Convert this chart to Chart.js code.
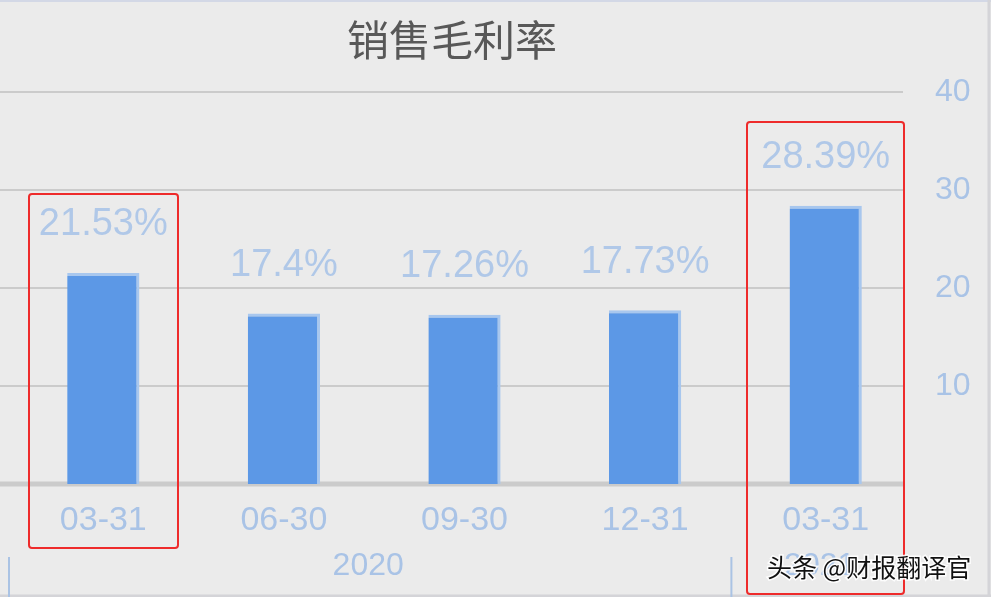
<!DOCTYPE html>
<html>
<head>
<meta charset="utf-8">
<script src="https://cdn.jsdelivr.net/npm/chart.js@4/dist/chart.umd.min.js"></script>
<style>
  html, body { margin: 0; padding: 0; background: #ebebeb; overflow: hidden; }
  canvas { display: block; }
</style>
</head>
<body>
<canvas id="chart" width="991" height="597"></canvas>
<script>
const title = '销售毛利率';
const categories = ['03-31', '06-30', '09-30', '12-31', '03-31'];
const years = ['2020', '2020', '2020', '2020', '2021'];
const margins = [21.53, 17.4, 17.26, 17.73, 28.39];
const yTicks = [0, 10, 20, 30, 40];
const watermark = '头条 @财报翻译官';

const labelBlue = '#a9c3e6';
const cjk = '"Noto Sans CJK SC", sans-serif';

// horizontal grid lines run a bit left of the plot and stop short of the axis
const gridPlugin = {
  id: 'grid',
  beforeDatasetsDraw(chart) {
    const { ctx } = chart;
    const y = chart.scales.y;
    ctx.save();
    yTicks.forEach(v => {
      const py = y.getPixelForValue(v);
      ctx.strokeStyle = '#cbcbcb';
      ctx.lineWidth = v === 0 ? 5 : 2;
      ctx.beginPath();
      ctx.moveTo(0, py);
      ctx.lineTo(903, py);
      ctx.stroke();
    });
    ctx.restore();
  }
};

const extrasPlugin = {
  id: 'extras',
  afterDraw(chart) {
    const { ctx, width, height } = chart;
    const x = chart.scales.x;
    const meta = chart.getDatasetMeta(0);
    ctx.save();

    // frame
    ctx.strokeStyle = '#d3d8e6';
    ctx.lineWidth = 2;
    ctx.beginPath();
    ctx.moveTo(0, 1); ctx.lineTo(width, 1);
    ctx.stroke();
    ctx.strokeStyle = '#d4d4d8';
    ctx.lineWidth = 3;
    ctx.beginPath();
    ctx.moveTo(width - 2, 0); ctx.lineTo(width - 2, height);
    ctx.moveTo(0, height - 1); ctx.lineTo(width, height - 1);
    ctx.stroke();

    // title
    ctx.fillStyle = '#585858';
    ctx.font = '42px ' + cjk;
    ctx.textAlign = 'center';
    ctx.textBaseline = 'middle';
    ctx.fillText(title, 452, 40);

    // value labels
    ctx.fillStyle = '#b0c8e8';
    ctx.font = '38px "Liberation Sans", sans-serif';
    ctx.textBaseline = 'bottom';
    meta.data.forEach((bar, i) => {
      ctx.fillText(margins[i] + '%', bar.x, bar.y - 29);
    });

    // year groups
    const groups = [];
    years.forEach((yr, i) => {
      const g = groups[groups.length - 1];
      if (g && g.year === yr) g.end = i; else groups.push({ year: yr, start: i, end: i });
    });
    const half = (x.getPixelForValue(1) - x.getPixelForValue(0)) / 2;
    ctx.font = '32px "Liberation Sans", sans-serif';
    ctx.textBaseline = 'middle';
    ctx.fillStyle = labelBlue;
    ctx.strokeStyle = '#aac3e4';
    ctx.lineWidth = 2;
    groups.forEach(g => {
      const left = x.getPixelForValue(g.start) - half;
      ctx.beginPath();
      ctx.moveTo(left - 4, 557);
      ctx.lineTo(left - 4, 597);
      ctx.stroke();
      const mid = (x.getPixelForValue(g.start) + x.getPixelForValue(g.end)) / 2;
      ctx.fillText(g.year, mid - 6, 566);
    });

    // red highlight boxes around the first and latest quarter
    ctx.strokeStyle = '#ee2b2b';
    ctx.lineWidth = 2;
    const boxes = [
      { left: 29, top: 194, right: 178, bottom: 548 },
      { left: 747, top: 122, right: 904, bottom: 594 }
    ];
    boxes.forEach(b => {
      ctx.beginPath();
      ctx.roundRect(b.left, b.top, b.right - b.left, b.bottom - b.top, 3);
      ctx.stroke();
    });

    // watermark
    ctx.font = '25px ' + cjk;
    ctx.textAlign = 'left';
    ctx.lineWidth = 3;
    ctx.strokeStyle = 'rgba(255,255,255,0.9)';
    ctx.strokeText(watermark, 767, 567);
    ctx.fillStyle = '#111';
    ctx.fillText(watermark, 767, 567);
    ctx.restore();
  }
};

new Chart(document.getElementById('chart'), {
  type: 'bar',
  data: {
    labels: categories,
    datasets: [{
      data: margins,
      backgroundColor: '#5c98e6',
      borderColor: '#a8c7ee',
      borderWidth: { top: 3, right: 3, left: 0, bottom: 0 },
      borderSkipped: false,
      categoryPercentage: 0.4,
      barPercentage: 1
    }]
  },
  options: {
    responsive: false,
    animation: false,
    devicePixelRatio: 1,
    layout: { padding: { left: 13, top: 92, right: 0, bottom: 0 } },
    plugins: { legend: { display: false }, tooltip: { enabled: false }, title: { display: false } },
    scales: {
      x: {
        grid: { display: false },
        border: { display: false },
        ticks: { color: labelBlue, padding: 8, font: { size: 34, family: '"Liberation Sans", sans-serif' } },
        afterFit(s) { s.height = 113; }
      },
      y: {
        position: 'right',
        min: 0,
        max: 40,
        afterBuildTicks(s) { s.ticks = yTicks.map(v => ({ value: v })); },
        grid: { display: false },
        border: { display: false },
        ticks: {
          color: labelBlue,
          padding: 11,
          font: { size: 32, family: '"Liberation Sans", sans-serif' },
          callback: v => (v === 0 ? '' : v)
        },
        afterFit(s) { s.width = 75; }
      }
    }
  },
  plugins: [gridPlugin, extrasPlugin]
});
</script>
</body>
</html>
